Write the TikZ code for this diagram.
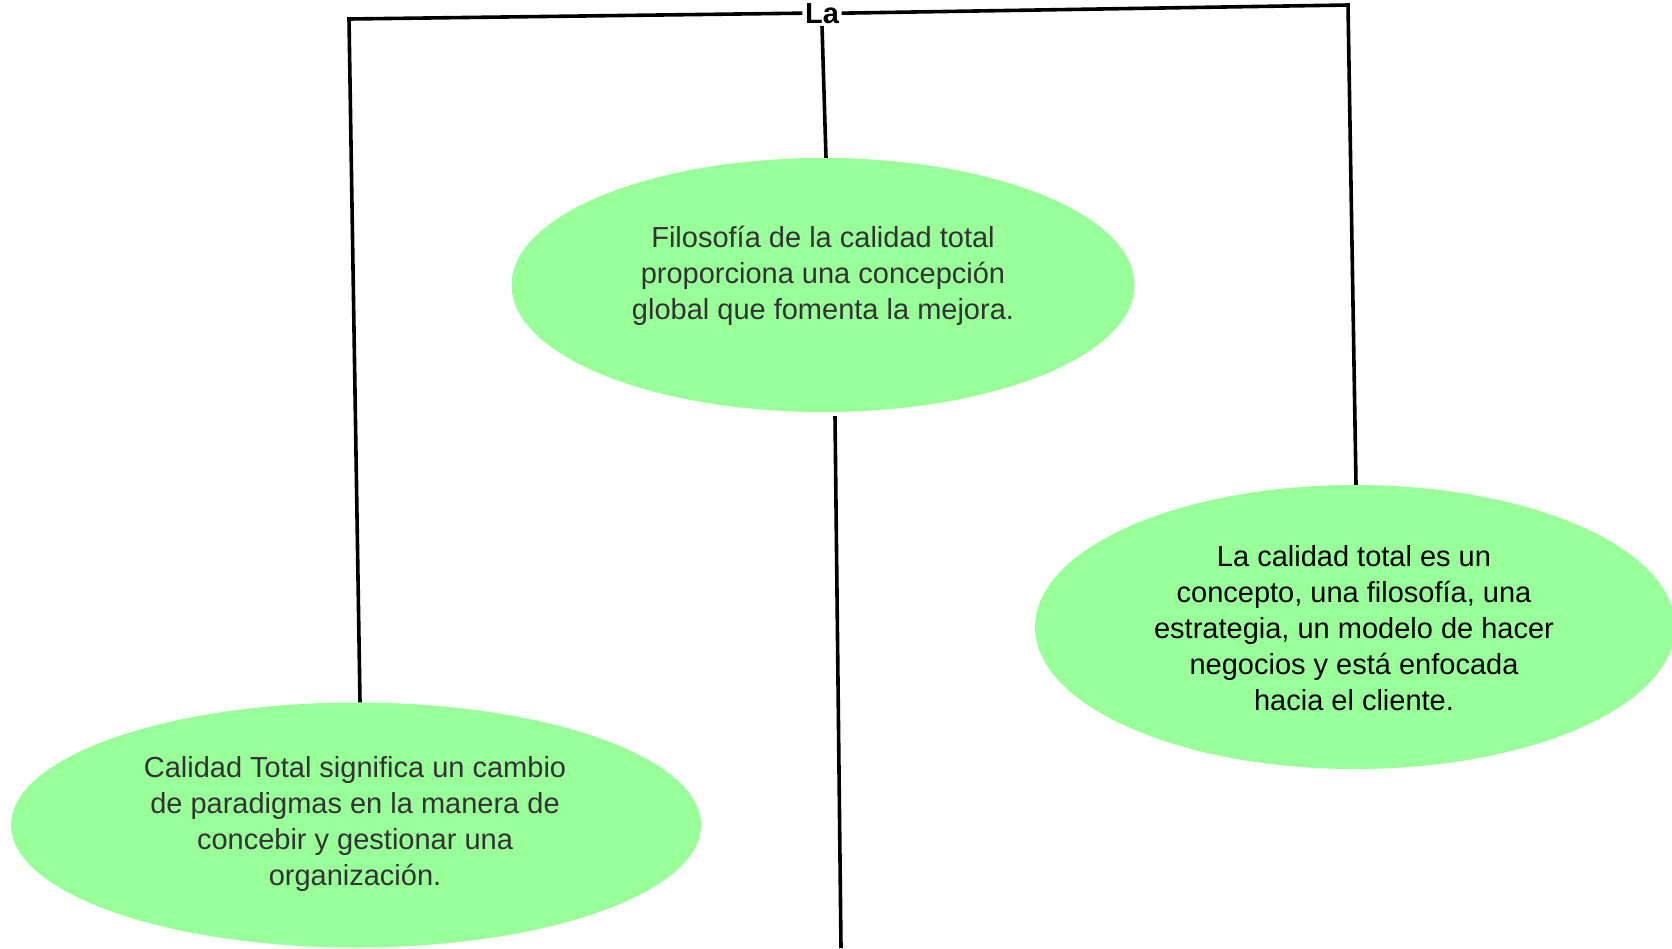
\documentclass[tikz,border=0pt]{standalone}
\usepackage{fontspec}
\setmainfont{Liberation Sans}
\usetikzlibrary{shapes.geometric}
\definecolor{ellfill}{HTML}{99FF99}
\definecolor{txtgray}{HTML}{333333}
\begin{document}
\begin{tikzpicture}[x=1pt,y=-1pt,
  conn/.style={draw=black,line width=3.6pt},
  blob/.style={ellipse,fill=ellfill,draw=none,inner sep=0pt},
  blobtext/.style={align=center,font=\fontsize{29}{36}\selectfont,inner sep=0pt}
]
\useasboundingbox (0,0) rectangle (1672,948);
% title
\node[font=\fontsize{29}{34}\bfseries\selectfont,anchor=base,inner sep=2.5pt] (la) at (822,23) {La};
% ellipses
\node[blob,minimum width=623pt,minimum height=254pt] (top) at (823,285) {};
\node[blobtext,text=txtgray] (toptxt) at (823,276) {Filosofía de la calidad total\\proporciona una concepción\\global que fomenta la mejora.};
\node[blob,minimum width=640pt,minimum height=284pt] (right) at (1355,627) {};
\node[blobtext,text=black] (righttxt) at (1354,628) {La calidad total es un\\concepto, una filosofía, una\\estrategia, un modelo de hacer\\negocios y está enfocada\\hacia el cliente.};
\node[blob,minimum width=690pt,minimum height=245pt] (left) at (356,825) {};
\node[blobtext,text=txtgray] (lefttxt) at (355,824) {Calidad Total significa un cambio\\de paradigmas en la manera de\\concebir y gestionar una\\organización.};
% coordinates
\coordinate (cl) at (349,19);
\coordinate (cr) at (1348,5);
\coordinate (bot) at (841,948);
% connectors
\draw[conn,line join=miter] (la.west) -- (cl) -- ([xshift=4pt]left.north);
\draw[conn,line join=miter] (la.east) -- (cr) -- ([xshift=1pt]right.north);
\draw[conn] (la.south) -- ([xshift=3pt]top.north);
\draw[conn] ([xshift=12pt,yshift=-4pt]top.south) -- (bot);
\end{tikzpicture}
\end{document}
